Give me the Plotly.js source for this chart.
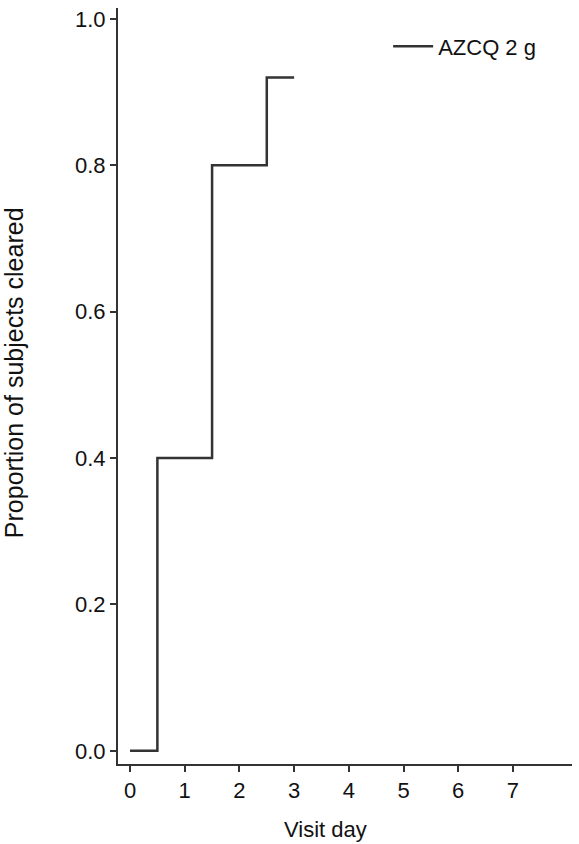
<!DOCTYPE html>
<html>
<head>
<meta charset="utf-8">
<script src="https://cdn.plot.ly/plotly-3.0.1.min.js"></script>
<style>
  html, body { margin: 0; padding: 0; background: #fff; }
  #chart { width: 579px; height: 844px; }
</style>
</head>
<body>
<div id="chart"></div>
<script>
// Kaplan-Meier style clearance curve
const visitDays = [0, 0.5, 1.5, 2.5, 3];
const proportionCleared = [0, 0.4, 0.8, 0.92, 0.92];
const seriesName = "AZCQ 2 g";
const xTicks = [0, 1, 2, 3, 4, 5, 6, 7];
const yTicks = [0, 0.2, 0.4, 0.6, 0.8, 1.0];

const axisColor = "#333";
const fontFamily = "Liberation Sans, Arial, sans-serif";

let trace = {
    x: visitDays,
    y: proportionCleared,
    type: "scatter",
    mode: "lines",
    name: seriesName,
    line: { shape: "hv", color: "#333", width: 2.5 }
};

let layout = {
    width: 579,
    height: 844,
    margin: { l: 118, r: 7, t: 8, b: 80 },
    paper_bgcolor: "#fff",
    plot_bgcolor: "#fff",
    font: { family: fontFamily, size: 22, color: "#111" },
    showlegend: true,
    legend: {
        x: 0.595, y: 0.977, xanchor: "left", yanchor: "top",
        bgcolor: "rgba(0,0,0,0)",
        itemwidth: 40,
        font: { family: fontFamily, size: 22, color: "#111" }
    },
    xaxis: {
        range: [-0.22, 8.08],
        tickvals: xTicks,
        ticks: "outside",
        ticklen: 6,
        tickwidth: 2,
        tickcolor: axisColor,
        tickfont: { family: fontFamily, size: 22, color: "#111" },
        showline: true,
        linecolor: axisColor,
        linewidth: 2,
        showgrid: false,
        zeroline: false
    },
    yaxis: {
        range: [-0.018, 1.015],
        tickvals: yTicks,
        tickformat: ".1f",
        ticks: "outside",
        ticklen: 6,
        tickwidth: 2,
        tickcolor: axisColor,
        tickfont: { family: fontFamily, size: 22, color: "#111" },
        showline: true,
        linecolor: axisColor,
        linewidth: 2,
        showgrid: false,
        zeroline: false
    },
    annotations: [
        {
            text: "Visit day", xref: "paper", yref: "paper",
            x: 0.456, y: -0.087, xanchor: "center", yanchor: "middle",
            showarrow: false, font: { family: fontFamily, size: 22, color: "#111" }
        },
        {
            text: "Proportion of subjects cleared", xref: "paper", yref: "paper",
            x: -0.229, y: 0.517, xanchor: "center", yanchor: "middle",
            textangle: -90, showarrow: false,
            font: { family: fontFamily, size: 25, color: "#111" }
        }
    ]
};

Plotly.newPlot("chart", [trace], layout, { displayModeBar: false, staticPlot: true });
</script>
</body>
</html>
